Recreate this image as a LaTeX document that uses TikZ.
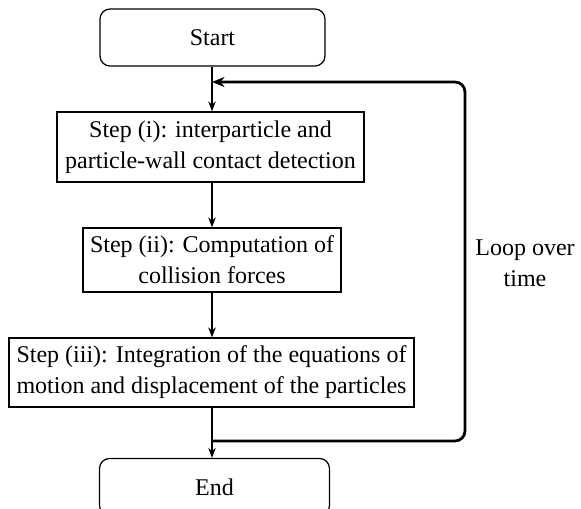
\documentclass[tikz,border=0pt]{standalone}
\usepackage{fontspec}
\setmainfont{Liberation Serif}
\newfontfamily\labelfont{Liberation Serif}
\usetikzlibrary{arrows.meta,calc}

\begin{document}
\begin{tikzpicture}[x=0.4pt,y=-0.4pt,
  every node/.style={font=\labelfont\fontsize{9.6}{12.4}\selectfont, align=center, inner sep=0pt},
  terminal/.style={draw, rounded corners=4pt, line width=0.5pt},
  stepbox/.style={draw, line width=0.5pt},
  flow/.style={-{Stealth[length=4pt,width=3pt]}, line width=0.5pt},
  loopline/.style={-{Stealth[length=5pt,width=4pt]}, line width=1.1pt, rounded corners=4pt}
]
\useasboundingbox (0,0) rectangle (581,508);

% process boxes
\node[terminal, minimum width=90pt, minimum height=22.8pt] (start) at (212.5,37.5) {Start};
\node[stepbox, minimum width=122.8pt, minimum height=28pt] (s1) at (210.5,147)
  {Step (i): interparticle and\\particle-wall contact detection};
\node[stepbox, minimum width=103.2pt, minimum height=25.6pt] (s2) at (212,260)
  {Step (ii): Computation of\\collision forces};
\node[stepbox, minimum width=162pt, minimum height=27.6pt] (s3) at (211.5,372.5)
  {Step (iii): Integration of the equations of\\motion and displacement of the particles};
\node[terminal, minimum width=92pt, minimum height=22.8pt] (end) at (214.5,487) {End};

% loop junctions and right-hand corners
\coordinate (jtop) at (212,82);
\coordinate (jbot) at (212,441);
\coordinate (rtop) at (465,82);
\coordinate (rbot) at (465,441);

% main flow
\draw[flow] (start.south -| jtop) -- (s1.north -| jtop);
\draw[flow] (s1.south -| jtop) -- (s2.north -| jtop);
\draw[flow] (s2.south -| jtop) -- (s3.north -| jtop);
\draw[flow] (s3.south -| jtop) -- (end.north -| jtop);

% time loop
\draw[loopline] (jbot) -- (rbot) -- (rtop) -- (jtop);
\node (looplabel) at (525,263) {Loop over\\time};
\end{tikzpicture}
\end{document}
